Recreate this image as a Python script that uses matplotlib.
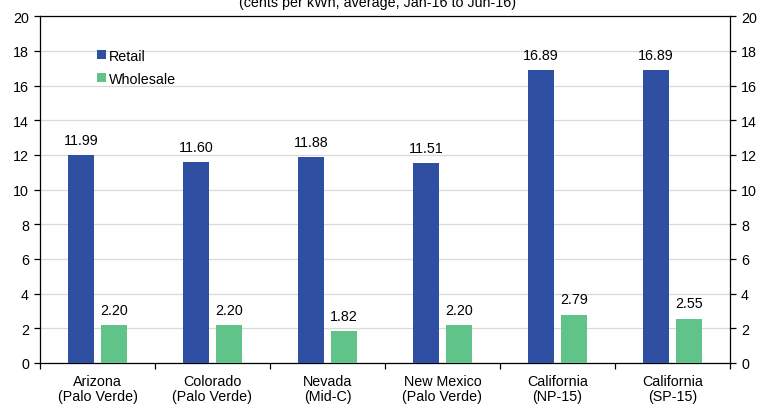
import numpy as np
import matplotlib.pyplot as plt

plt.rcParams['font.family'] = ['Liberation Sans', 'DejaVu Sans']

regions = ["Arizona\n(Palo Verde)", "Colorado\n(Palo Verde)", "Nevada\n(Mid-C)",
           "New Mexico\n(Palo Verde)", "California\n(NP-15)", "California\n(SP-15)"]
retail = [11.99, 11.60, 11.88, 11.51, 16.89, 16.89]
wholesale = [2.20, 2.20, 1.82, 2.20, 2.79, 2.55]

blue = '#2f4fa3'
green = '#60c38a'
fs = 10.3

fig = plt.figure(figsize=(7.59, 4.06), dpi=100)
ax = fig.add_axes([40/759, 42/406, 690/759, 346.7/406])

x = np.arange(len(regions))
w = 0.226
off = 0.143
b1 = ax.bar(x - off, retail, w, color=blue, label='Retail', zorder=3)
b2 = ax.bar(x + off, wholesale, w, color=green, label='Wholesale', zorder=3)

for bars, vals in ((b1, retail), (b2, wholesale)):
    for r, v in zip(bars, vals):
        ax.annotate(f"{v:.2f}", (r.get_x() + r.get_width()/2, v),
                    xytext=(0, 6), textcoords='offset points',
                    ha='center', va='bottom', fontsize=fs)

ax.set_xlim(-0.5, len(regions) - 0.5)
ax.set_ylim(0, 20)
ax.set_yticks(np.arange(0, 21, 2))
ax.yaxis.grid(True, color='#d9d9d9', linewidth=0.9, zorder=0)
ax.tick_params(axis='y', which='both', left=True, right=True, labelleft=True,
               labelright=True, direction='out', length=4, width=0.9,
               labelsize=fs, pad=4)

ax.set_xticks(x)
ax.set_xticklabels(regions, fontsize=fs, linespacing=1.1)
ax.set_xticks(np.arange(-0.5, len(regions)), minor=True)
ax.tick_params(axis='x', which='major', length=0, pad=8)
ax.tick_params(axis='x', which='minor', direction='out', length=4, width=0.9)

for s in ax.spines.values():
    s.set_linewidth(0.9)
    s.set_color('black')

ax.legend(loc='upper left', bbox_to_anchor=(97/759, 1 - 50/406),
          bbox_transform=fig.transFigure, frameon=False, fontsize=fs,
          handlelength=0.6, handleheight=0.6, handletextpad=0.2,
          labelspacing=0.6, borderaxespad=0, borderpad=0)

fig.text(378/759, 1 - 7/406, "(cents per kWh, average, Jan-16 to Jun-16)",
         ha='center', va='baseline', fontsize=fs)

fig.savefig('out.png', dpi=100)
